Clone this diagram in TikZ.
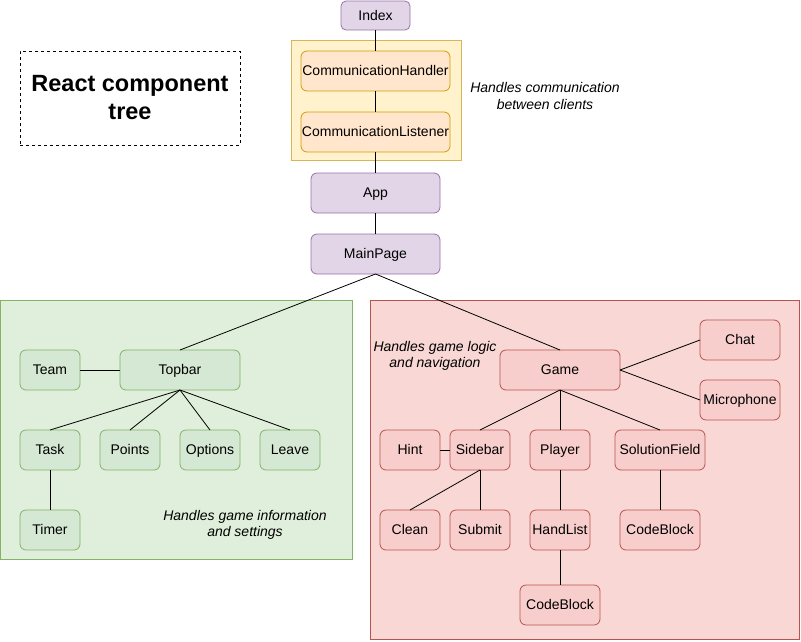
\documentclass[tikz,border=0pt]{standalone}
\usepackage{fontspec}
\setmainfont{Liberation Sans}
\usepackage{tikz}
\usetikzlibrary{positioning}
\definecolor{purplefill}{HTML}{E1D5E7}
\definecolor{purpleline}{HTML}{9673A6}
\definecolor{orangefill}{HTML}{FFE6CC}
\definecolor{orangeline}{HTML}{D79B00}
\definecolor{yellowfill}{HTML}{FFF2CC}
\definecolor{yellowline}{HTML}{D6B656}
\definecolor{greenfill}{HTML}{D5E8D4}
\definecolor{greenarea}{HTML}{E0EFDB}
\definecolor{greenline}{HTML}{82B366}
\definecolor{redfill}{HTML}{F8CECC}
\definecolor{redarea}{HTML}{F8D7D5}
\definecolor{redline}{HTML}{B85450}
\tikzset{
  comp/.style={rectangle, rounded corners=6pt, draw, line width=0.8pt, outer sep=0pt, minimum width=60pt, minimum height=40pt, inner sep=0pt, text height=10pt, text depth=1pt, font=\fontsize{14}{16.5}\selectfont},
  purple/.style={draw=purpleline, fill=purplefill},
  orange/.style={draw=orangeline, fill=orangefill},
  green/.style={draw=greenline, fill=greenfill},
  red/.style={draw=redline, fill=redfill},
  area/.style={rectangle, line width=0.8pt},
  note/.style={align=center, font=\fontsize{14}{16.5}\selectfont\itshape},
  link/.style={draw, line width=0.8pt},
}

\begin{document}
\begin{tikzpicture}[x=1pt, y=-1pt, node distance=20pt]
  \useasboundingbox (0,0) rectangle (801,641);
  % group areas
  \draw[area, draw=yellowline, fill=yellowfill] (291,40.5) rectangle (461,160);
  \draw[area, draw=greenline, fill=greenarea] (0.5,300.5) rectangle (352.5,559.5);
  \draw[area, draw=redline, fill=redarea] (370.5,300.5) rectangle (799.5,639.5);

  \node[rectangle, draw, dashed, line width=0.8pt, minimum width=220pt, minimum height=94pt, align=center, font=\fontsize{23.5}{28}\selectfont\bfseries] (title) at (130,98) {React component\\tree};

  % main chain
  \node[comp, purple, minimum width=69pt, minimum height=29pt, rounded corners=5pt] (index) at (375.5,15.5) {Index};
  \node[comp, orange, minimum width=149pt] (handler) [below=21pt of index] {CommunicationHandler};
  \node[comp, orange, minimum width=149pt] (listener) [below=21pt of handler] {CommunicationListener};
  \node[note] (commnote) at (545,96) {Handles communication\\between clients};
  \node[comp, purple, minimum width=129pt] (app) [below=21pt of listener] {App};
  \node[comp, purple, minimum width=129pt] (mainpage) [below=21pt of app] {MainPage};

  % topbar side
  \node[comp, green, minimum width=120pt] (topbar) at (180,370) {Topbar};
  \node[comp, green] (team) at (50,370) {Team};
  \node[comp, green] (task) at (50,450) {Task};
  \node[comp, green] (points) [right=of task] {Points};
  \node[comp, green] (options) [right=of points] {Options};
  \node[comp, green] (leave) [right=of options] {Leave};
  \node[comp, green] (timer) [below=40pt of task] {Timer};
  \node[note] (topnote) at (245,525) {Handles game information\\and settings};

  % game side
  \node[comp, red, minimum width=120pt] (game) at (560,370) {Game};
  \node[note] (gamenote) at (435,356) {Handles game logic\\and navigation};
  \node[comp, red, minimum width=80pt] (chat) at (740,340) {Chat};
  \node[comp, red, minimum width=80pt] (mic) at (740,400) {Microphone};
  \node[comp, red] (hint) at (410,450) {Hint};
  \node[comp, red] (sidebar) [right=10pt of hint] {Sidebar};
  \node[comp, red] (player) [right=of sidebar] {Player};
  \node[comp, red, minimum width=90pt] (solution) [right=25pt of player] {SolutionField};
  \node[comp, red] (clean) [below=40pt of hint] {Clean};
  \node[comp, red] (submit) [below=40pt of sidebar] {Submit};
  \node[comp, red] (handlist) [below=40pt of player] {HandList};
  \node[comp, red, minimum width=80pt] (codeblock2) [below=35pt of handlist] {CodeBlock};
  \node[comp, red, minimum width=80pt] (codeblock1) [below=40pt of solution] {CodeBlock};

  \draw[link] (index.south) -- (handler.north);
  \draw[link] (handler.south) -- (listener.north);
  \draw[link] (listener.south) -- (app.north);
  \draw[link] (app.south) -- (mainpage.north);
  \draw[link] (mainpage.south) -- (topbar.north);
  \draw[link] (mainpage.south) -- (game.north);

  \draw[link] (team.east) -- (topbar.west);
  \draw[link] (topbar.south) -- (task.north);
  \draw[link] (topbar.south) -- (points.north);
  \draw[link] (topbar.south) -- (options.north);
  \draw[link] (topbar.south) -- (leave.north);
  \draw[link] (task.south) -- (timer.north);

  \draw[link] (game.east) -- (chat.west);
  \draw[link] (game.east) -- (mic.west);
  \draw[link] (game.south) -- (sidebar.north);
  \draw[link] (game.south) -- (player.north);
  \draw[link] (game.south) -- (solution.north);
  \draw[link] (hint.east) -- (sidebar.west);
  \draw[link] (sidebar.south) -- (clean.north);
  \draw[link] (sidebar.south) -- (submit.north);
  \draw[link] (player.south) -- (handlist.north);
  \draw[link] (handlist.south) -- (codeblock2.north);
  \draw[link] (solution.south) -- (codeblock1.north);
\end{tikzpicture}
\end{document}
